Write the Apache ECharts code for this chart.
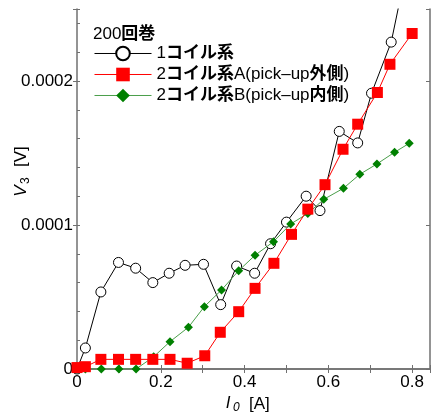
<!DOCTYPE html>
<html>
<head>
<meta charset="utf-8">
<script src="https://cdn.jsdelivr.net/npm/echarts@6/dist/echarts.min.js"></script>
<style>html,body{margin:0;padding:0;background:#fff}#c{width:433px;height:414px}</style>
</head>
<body>
<div id="c"></div>
<script>
// ---- data ----
const seriesNames = ['1コイル系', '2コイル系A(pick–up外側)', '2コイル系B(pick–up内側)'];
const legendTitle = '200回巻';

const x1 = [0, 0.02, 0.057, 0.099, 0.14, 0.181, 0.22, 0.258, 0.302, 0.343, 0.381, 0.424, 0.462, 0.5, 0.547, 0.58, 0.626, 0.67, 0.703, 0.75, 0.79];
const y1 = [0, 0.0000146, 0.0000535, 0.000074, 0.00007, 0.00006, 0.0000665, 0.000072, 0.0000727, 0.0000447, 0.0000715, 0.0000665, 0.000087, 0.000102, 0.00012, 0.00011, 0.000165, 0.000157, 0.0001915, 0.000227, 0.000283];

const xA = [0, 0.02, 0.057, 0.099, 0.14, 0.181, 0.222, 0.263, 0.305, 0.342, 0.386, 0.425, 0.47, 0.512, 0.551, 0.592, 0.635, 0.67, 0.717, 0.747, 0.8];
const yA = [0.000001, 0.0000016, 0.0000067, 0.0000067, 0.0000067, 0.0000067, 0.0000067, 0.000004, 0.0000092, 0.0000255, 0.0000398, 0.000056, 0.0000734, 0.0000935, 0.000111, 0.000128, 0.0001526, 0.00017, 0.000192, 0.0002116, 0.000233];

const xB = [0, 0.02, 0.058, 0.1, 0.141, 0.183, 0.222, 0.266, 0.304, 0.345, 0.386, 0.425, 0.469, 0.51, 0.551, 0.589, 0.636, 0.675, 0.716, 0.758, 0.793];
const yB = [0, 0, 0, 0, 0, 0.0000085, 0.000019, 0.000029, 0.0000433, 0.0000549, 0.0000683, 0.000079, 0.0000884, 0.0001007, 0.000108, 0.0001178, 0.0001255, 0.0001352, 0.0001424, 0.0001505, 0.0001567];

const xTickLabels = ['0', '0.2', '0.4', '0.6', '0.8'];
const yTickLabels = ['0', '0.0001', '0.0002'];

// ---- chart ----
const zip = (xs, ys) => xs.map((x, i) => [x, ys[i]]);
const FONT = "'Liberation Sans', 'Noto Sans CJK JP', sans-serif";
const AX = '#707070';
const XMAX = 0.8426, YMAX = 0.00025;

const boldCJK = s => s.replace(/([\u3040-\u30ff\u3400-\u9fff]+)/g, '{b|$1}');
const RICH = {b: {fontWeight: 'bold', fontSize: 17, fontFamily: FONT, color: '#000'}};

const xFmt = v => {
  const r = Math.round(v * 10);
  if (Math.abs(v * 10 - r) > 1e-6 || r % 2) return '';
  return xTickLabels[r / 2] || '';
};
const yFmt = v => {
  const r = Math.round(v * 1e4);
  if (Math.abs(v * 1e4 - r) > 1e-6) return '';
  return yTickLabels[r] || '';
};

const chart = echarts.init(document.getElementById('c'), null, {renderer: 'canvas'});
chart.setOption({
  animation: false,
  backgroundColor: '#fff',
  textStyle: {fontFamily: FONT},
  grid: {left: 77, top: 9, right: 0, bottom: 45, containLabel: false},
  xAxis: [
    {type: 'value', min: 0, max: XMAX, interval: 0.1, position: 'bottom',
     axisLine: {show: true, lineStyle: {color: AX, width: 1.5}},
     axisTick: {show: true, inside: true, length: 4, lineStyle: {color: AX}},
     axisLabel: {formatter: xFmt, color: '#000', fontSize: 17, fontFamily: FONT, margin: 5},
     splitLine: {show: false}},
    {type: 'value', min: 0, max: XMAX, interval: 0.1, position: 'top',
     axisLine: {show: true, lineStyle: {color: AX, width: 1.5}},
     axisTick: {show: true, inside: true, length: 4, lineStyle: {color: AX}},
     axisLabel: {show: false}, splitLine: {show: false}}
  ],
  yAxis: [
    {type: 'value', min: 0, max: YMAX, interval: 0.0001, position: 'left',
     axisLine: {show: true, lineStyle: {color: AX, width: 1.5}},
     axisTick: {show: true, inside: false, length: 4, lineStyle: {color: AX}},
     axisLabel: {formatter: yFmt, color: '#000', fontSize: 17, fontFamily: FONT, margin: 4},
     splitLine: {show: false}},
    {type: 'value', min: 0, max: YMAX, interval: 0.00002, position: 'left', offset: 0,
     axisLine: {show: false},
     axisTick: {show: true, inside: true, length: 3, lineStyle: {color: AX}},
     axisLabel: {show: false}, splitLine: {show: false}},
    {type: 'value', min: 0, max: YMAX, interval: 0.0001, position: 'right',
     axisLine: {show: true, lineStyle: {color: AX, width: 1.5}},
     axisTick: {show: true, inside: true, length: 4, lineStyle: {color: AX}},
     axisLabel: {show: false}, splitLine: {show: false}}
  ],
  legend: {
    orient: 'vertical', left: 94, top: 45, padding: 0,
    itemWidth: 57, itemHeight: 17, itemGap: 4,
    data: seriesNames,
    lineStyle: {width: 1},
    formatter: boldCJK,
    textStyle: {fontSize: 17, color: '#000', fontFamily: FONT, rich: RICH}
  },
  graphic: [
    {type: 'text', left: 93, top: 26, style: {text: boldCJK(legendTitle), rich: RICH, fontSize: 17, fill: '#000', fontFamily: FONT}},
    // x axis name
    {type: 'text', x: 228, y: 403, style: {text: 'I', fontSize: 17, fontStyle: 'italic', fill: '#000', fontFamily: FONT, textAlign: 'center', textVerticalAlign: 'middle'}},
    {type: 'text', x: 233, y: 408, style: {text: '0', fontSize: 12, fontStyle: 'italic', fill: '#000', fontFamily: FONT, textAlign: 'left', textVerticalAlign: 'middle'}},
    {type: 'text', x: 249, y: 404, style: {text: '[A]', fontSize: 17, fill: '#000', fontFamily: FONT, textAlign: 'left', textVerticalAlign: 'middle'}},
    // y axis name (rotated)
    {type: 'group', x: 21, y: 168, rotation: Math.PI / 2, children: [
      {type: 'text', x: -23, y: 0, style: {text: 'V', fontSize: 17, fontStyle: 'italic', fill: '#000', fontFamily: FONT, textAlign: 'center', textVerticalAlign: 'middle'}},
      {type: 'text', x: -16, y: 5, style: {text: '3', fontSize: 12, fill: '#000', fontFamily: FONT, textAlign: 'left', textVerticalAlign: 'middle'}},
      {type: 'text', x: 1, y: 0, style: {text: '[V]', fontSize: 17, fill: '#000', fontFamily: FONT, textAlign: 'left', textVerticalAlign: 'middle'}}
    ]}
  ],
  series: [
    {name: seriesNames[0], type: 'line', data: zip(x1, y1), z: 2,
     symbol: 'circle', symbolSize: 10, showAllSymbol: true,
     lineStyle: {color: '#000', width: 1},
     itemStyle: {color: '#fff', borderColor: '#000', borderWidth: 1}},
    {name: seriesNames[2], type: 'line', data: zip(xB, yB), z: 3,
     symbol: 'diamond', symbolSize: 9, showAllSymbol: true,
     lineStyle: {color: '#4a9e4a', width: 1},
     itemStyle: {color: '#008000', borderWidth: 0}},
    {name: seriesNames[1], type: 'line', data: zip(xA, yA), z: 4,
     symbol: 'rect', symbolSize: 11, showAllSymbol: true,
     lineStyle: {color: '#ff0000', width: 1},
     itemStyle: {color: '#ff0000', borderWidth: 0}}
  ]
});
</script>
</body>
</html>
